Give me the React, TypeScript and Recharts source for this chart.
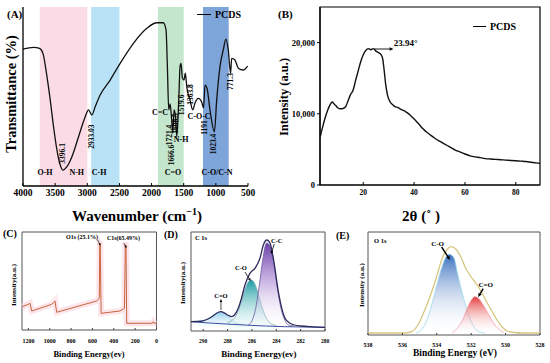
import React from "react";
import {
  ComposedChart,
  Line,
  Area,
  XAxis,
  YAxis,
  ReferenceArea,
  ReferenceDot,
  ReferenceLine,
  Legend,
} from "recharts";

const FONT = "'Liberation Serif', 'Times New Roman', serif";

// (A) FTIR spectrum
const ftirWavenumber = [
  4000, 3835, 3742, 3690, 3627, 3576, 3525, 3472, 3421, 3380, 3317, 3239, 3136, 3032, 2981, 2929,
  2877, 2800, 2644, 2489, 2282, 2074, 1919, 1816, 1775, 1754, 1733, 1712, 1689, 1670, 1650, 1630,
  1608, 1577, 1557, 1542, 1520, 1495, 1475, 1453, 1402, 1360, 1324, 1273, 1220, 1191, 1169, 1138,
  1091, 1023, 987, 936, 885, 843, 807, 771, 754, 703, 651, 574, 506,
];
const ftirTransmittance = [
  76.4, 77.5, 76.9, 74.1, 61.1, 48, 33.1, 20.1, 11.7, 8.9, 10.8, 16.4, 27.5, 38.7, 42.5, 39.7,
  44.3, 50.8, 59.2, 68.5, 79.7, 88.1, 91.2, 91.2, 87.2, 66.7, 42.5, 45.8, 38, 29.6, 42.5, 39.7,
  27.5, 48, 66.7, 68.5, 60.3, 59.2, 63.1, 55.5, 48, 42.5, 46.4, 49, 46.9, 43.6, 56.4, 54.7,
  42.5, 30.3, 48, 66.7, 76, 82, 76, 63, 71.3, 70.4, 65.8, 64.8, 67,
];
const ftirTicks = [4000, 3500, 3000, 2500, 2000, 1500, 1000, 500];
const ftirBandFrom = [3740, 2940, 1900, 1200];
const ftirBandTo = [3000, 2500, 1500, 800];
const ftirPeakText = ["3396.1", "2933.03", "1721.4", "1666.6", "1608.5", "1519.6", "1363.8", "1191", "1023.4", "771.3"];
const ftirPeakAt = [3393, 2934, 1724, 1686, 1624, 1531, 1401, 1184, 1039, 768];
const ftirPeakLevel = [18.2, 27.6, 28.5, 17.3, 34.9, 45.3, 51.1, 32.7, 23.5, 58.4];
const ftirGroupText = ["O-H", "N-H", "C-H", "C=O", "C-O/C-N", "C=C", "N-H", "C-O-C"];
const ftirGroupAt = [3658, 3164, 2817, 1666, 982, 1868, 1541, 1261];
const ftirGroupLevel = [7.8, 7.8, 7.8, 7.8, 7.8, 40.8, 25.7, 39.1];

// (B) XRD pattern
const xrdAngle = [
  3.1, 4, 5, 6, 7, 7.8, 8.5, 9.2, 10, 11, 12, 13, 14, 15, 16, 17, 18, 19, 20, 21, 22, 23, 24, 25,
  26, 27, 27.6, 28.2, 28.8, 29.5, 30.5, 31.5, 32.5, 33.5, 34.5, 35.5, 36.5, 37.5, 38.5, 39.5, 40.5,
  42, 43.5, 45, 46.5, 48, 50, 52, 54, 56, 58, 60, 62, 64, 66, 68, 70, 72, 74, 76, 78, 80, 82, 84,
  86, 88, 89.5,
];
const xrdIntensity = [
  6800, 8100, 9400, 10500, 11300, 11650, 11400, 11150, 10850, 10700, 10750, 10950, 11800, 12700,
  13300, 14700, 16000, 17300, 18300, 18900, 19150, 19000, 19150, 18800, 18600, 18300, 17800, 16200,
  14200, 12700, 11700, 11300, 11000, 10900, 10700, 10500, 10350, 10100, 9800, 9450, 9100, 8500,
  7900, 7400, 7000, 6600, 6150, 5750, 5350, 4950, 4650, 4350, 4100, 3950, 3850, 3700, 3650, 3600,
  3550, 3500, 3450, 3400, 3350, 3300, 3200, 3100, 3050,
];
const xrdTicksX = [20, 40, 60, 80];
const xrdTicksY = [0, 10000, 20000];

// (C) XPS survey
const surveyEnergy = [
  1260, 1201, 1185, 1169, 982, 960, 951, 935, 560, 541, 536, 531, 527, 519, 342, 300, 292, 286,
  279, 40, 30, 24, 0,
];
const surveyIntensity = [
  23.8, 26.2, 27.2, 19.4, 26.2, 28.3, 29.6, 18.1, 29.6, 31.6, 33, 88.5, 88, 17, 19.4, 22.1, 86.7,
  86.7, 6.8, 6.9, 8.5, 7, 6.8,
];
const surveyTicks = [1200, 1000, 800, 600, 400, 200, 0];

// (D) C 1s
const c1sEnvE = [
  291, 290.5, 290, 289.6, 289.2, 288.9, 288.55, 288.2, 287.9, 287.66, 287.4, 287.12, 286.85, 286.57,
  286.16, 285.75, 285.5, 285.34, 285.06, 284.78, 284.51, 284.24, 283.83, 283.55, 283.28, 282.87,
  282.5, 282, 281, 280,
];
const c1sEnvI = [
  9.3, 9.5, 10.2, 12, 15, 17.8, 19.3, 17.6, 15.5, 14.3, 16.5, 22.7, 33, 46, 57.7, 62.7, 68, 72.7, 86,
  91, 87.7, 72.7, 39.3, 22.7, 12.7, 7.7, 6, 5, 4.2, 3.7,
];
const c1sBgE = [291, 289.5, 287.7, 286, 284.9, 283.3, 280];
const c1sBgI = [9.3, 8, 6.7, 5.6, 5, 4.3, 3.7];
const c1sCdoE = [290.5, 290, 289.6, 289.2, 288.9, 288.55, 288.2, 287.9, 287.6, 287.3, 287, 286.6];
const c1sCdoI = [9.5, 10.5, 12.5, 15.5, 18, 19.3, 17.5, 14, 10.5, 8, 7, 6.5];
const c1sCoE = [288, 287.6, 287.2, 286.9, 286.6, 286.3, 286.05, 285.8, 285.5, 285.2, 284.9, 284.6, 284.3, 284];
const c1sCoI = [8.5, 11, 18, 28, 40, 49, 51, 48, 38, 25, 15, 9, 6.5, 5.5];
const c1sCcE = [286.3, 286, 285.7, 285.4, 285.1, 284.8, 284.5, 284.2, 283.9, 283.6, 283.3, 283, 282.6];
const c1sCcI = [6, 10, 22, 45, 72, 88, 85, 68, 42, 22, 11, 6, 5];
const c1sTicks = [290, 288, 286, 284, 282, 280];

// (E) O 1s
const o1sEnvE = [
  538, 536, 535.5, 535.1, 534.7, 534.3, 534, 533.7, 533.4, 533.2, 532.9, 532.6, 532.3, 532, 531.7,
  531.4, 531.1, 530.8, 530.5, 530.2, 529.9, 529.5, 529, 528,
];
const o1sEnvI = [2, 2, 3, 10, 25, 43, 59, 76, 85.5, 88.3, 86, 78, 66, 58, 51, 43, 33, 24, 15, 8, 4, 2.5, 2, 2];
const o1sCoE = [535.2, 534.9, 534.6, 534.3, 534, 533.7, 533.5, 533.27, 533, 532.8, 532.55, 532.3, 532.1, 531.8, 531.5, 531.2];
const o1sCoI = [2, 5, 14, 30, 50, 68, 77, 80.7, 77, 62, 44, 28, 18, 7, 3, 2];
const o1sCdoE = [533.1, 532.8, 532.5, 532.2, 531.95, 531.8, 531.6, 531.3, 531, 530.7, 530.4, 530.1];
const o1sCdoI = [2, 7, 15, 28, 36, 38.3, 37, 30, 21, 12, 6, 2.5];
const o1sTicks = [538, 536, 534, 532, 530, 528];

// tables for the library
const ftirData = ftirWavenumber.map((wn, i) => ({ wn, t: ftirTransmittance[i] }));
const xrdData = xrdAngle.map((a, i) => ({ a, v: xrdIntensity[i] }));
const surveyData = surveyEnergy.map((e, i) => ({ e, v: surveyIntensity[i] }));

type Series = { key: string; x: number[]; y: number[] };
function mergeSeries(list: Series[]) {
  const rows = new Map<number, any>();
  list.forEach((s) =>
    s.x.forEach((x, i) => {
      const row = rows.get(x) || { e: x };
      row[s.key] = s.y[i];
      rows.set(x, row);
    })
  );
  return Array.from(rows.values()).sort((a, b) => b.e - a.e);
}
const c1sData = mergeSeries([
  { key: "env", x: c1sEnvE, y: c1sEnvI },
  { key: "bg", x: c1sBgE, y: c1sBgI },
  { key: "cdo", x: c1sCdoE, y: c1sCdoI },
  { key: "co", x: c1sCoE, y: c1sCoI },
  { key: "cc", x: c1sCcE, y: c1sCcI },
]);
const o1sData = mergeSeries([
  { key: "env", x: o1sEnvE, y: o1sEnvI },
  { key: "co", x: o1sCoE, y: o1sCoI },
  { key: "cdo", x: o1sCdoE, y: o1sCdoI },
]);

const bandColors = ["#fadbe6", "#b9e2f7", "#c3e6cd", "#7ea5d9"];

const tickStyle = (size: number) => ({ fontSize: size, fontWeight: "bold", fill: "#000", fontFamily: FONT });

function textShape(text: string, size: number, rotate = false, anchor = "middle") {
  return (p: any) => (
    <text
      x={p.cx}
      y={p.cy}
      transform={rotate ? `rotate(-90 ${p.cx} ${p.cy})` : undefined}
      textAnchor={anchor}
      dominantBaseline="central"
      fontFamily={FONT}
      fontWeight="bold"
      fontSize={size}
      fill="#000"
    >
      {text}
    </text>
  );
}

function arrowShape(width: number, head: number) {
  return (p: any) => {
    const { x1, y1, x2, y2 } = p;
    const a = Math.atan2(y2 - y1, x2 - x1);
    const bx = x2 - head * Math.cos(a);
    const by = y2 - head * Math.sin(a);
    const w = head * 0.45;
    const pts = `${x2},${y2} ${bx + w * Math.sin(a)},${by - w * Math.cos(a)} ${bx - w * Math.sin(a)},${by + w * Math.cos(a)}`;
    return (
      <g>
        <line x1={x1} y1={y1} x2={bx} y2={by} stroke="#000" strokeWidth={width} />
        <polygon points={pts} fill="#000" />
      </g>
    );
  };
}

function title(text: React.ReactNode, x: number, y: number, size: number, rotate = false) {
  return () => (
    <text
      x={x}
      y={y}
      transform={rotate ? `rotate(-90 ${x} ${y})` : undefined}
      textAnchor="middle"
      dominantBaseline={rotate ? "central" : undefined}
      fontFamily={FONT}
      fontWeight="bold"
      fontSize={size}
      fill="#000"
    >
      {text}
    </text>
  );
}

const pcdsLegend = (lineW: number, size: number) => () => (
  <div style={{ display: "flex", alignItems: "center", fontFamily: FONT, fontWeight: "bold", fontSize: size, color: "#000" }}>
    <span style={{ display: "inline-block", width: lineW, borderTop: "1.5px solid #000", marginRight: 4 }} />
    PCDS
  </div>
);

function PanelA() {
  return (
    <ComposedChart width={262} height={228} data={ftirData} margin={{ top: 7, right: 14, bottom: 0, left: 0 }}>
      {ftirBandFrom.map((from, i) => (
        <ReferenceArea key={"band" + i} x1={from} x2={ftirBandTo[i]} fill={bandColors[i]} fillOpacity={1} stroke="none" />
      ))}
      <XAxis
        type="number"
        dataKey="wn"
        domain={[500, 4000]}
        reversed
        ticks={ftirTicks}
        interval={0}
        height={42}
        tick={tickStyle(9.5)}
        tickSize={3}
        tickMargin={0}
        tickLine={{ stroke: "#000", transform: "translate(0,-3)" }}
        axisLine={{ stroke: "#000", strokeWidth: 1.3 }}
        label={{
          content: title(
            <>
              Wavenumber (cm<tspan dy={-6} fontSize={10}>−1</tspan>
              <tspan dy={6}>)</tspan>
            </>,
            137,
            221,
            15
          ),
        }}
      />
      <YAxis
        type="number"
        domain={[0, 100]}
        width={23}
        tick={false}
        tickLine={false}
        axisLine={{ stroke: "#000", strokeWidth: 1.3 }}
        label={{ content: title("Transmittance (%)", 11, 94, 14.5, true) }}
      />
      <Line type="monotone" dataKey="t" stroke="#111" strokeWidth={1.3} dot={false} isAnimationActive={false} />
      {ftirPeakText.map((t, i) => (
        <ReferenceDot key={"pk" + i} x={ftirPeakAt[i]} y={ftirPeakLevel[i]} r={0} shape={textShape(t, 7.5, true)} />
      ))}
      {ftirGroupText.map((t, i) => (
        <ReferenceDot key={"gr" + i} x={ftirGroupAt[i]} y={ftirGroupLevel[i]} r={0} shape={textShape(t, 8)} />
      ))}
      <Legend
        layout="horizontal"
        verticalAlign="middle"
        align="center"
        wrapperStyle={{ top: 9, left: 197, width: 55, height: 16 }}
        content={pcdsLegend(14, 10)}
      />
    </ComposedChart>
  );
}

function PanelB() {
  return (
    <ComposedChart width={270} height={225} data={xrdData} margin={{ top: 7, right: 5, bottom: 0, left: 0 }}>
      <XAxis
        type="number"
        dataKey="a"
        domain={[3, 89.5]}
        ticks={xrdTicksX}
        interval={0}
        height={40}
        tick={tickStyle(7.5)}
        tickSize={3}
        tickMargin={2}
        tickLine={{ stroke: "#000", transform: "translate(0,-3)" }}
        axisLine={{ stroke: "#000", strokeWidth: 1.2 }}
        label={{ content: title("2θ (˚ )", 146, 221, 15) }}
      />
      <YAxis
        type="number"
        domain={[0, 25000]}
        ticks={xrdTicksY}
        interval={0}
        width={45}
        tick={tickStyle(8.5)}
        tickSize={3}
        tickMargin={2}
        tickFormatter={(v: number) => v.toLocaleString("en-US")}
        tickLine={{ stroke: "#000" }}
        axisLine={{ stroke: "#000", strokeWidth: 1.2 }}
        label={{ content: title("Intensity (a.u.)", 9, 97, 12.5, true) }}
      />
      <ReferenceArea x1={3} x2={89.5} y1={0} y2={25000} fill="none" stroke="#000" strokeWidth={1.2} />
      <Line type="monotone" dataKey="v" stroke="#111" strokeWidth={1.4} dot={false} isAnimationActive={false} />
      <ReferenceLine segment={[{ x: 24.3, y: 19100 }, { x: 31.9, y: 19100 }]} shape={arrowShape(0.9, 4)} />
      <ReferenceDot x={36.7} y={19900} r={0} shape={textShape("23.94°", 9)} />
      <Legend
        layout="horizontal"
        verticalAlign="middle"
        align="center"
        wrapperStyle={{ top: 21, left: 198, width: 70, height: 16 }}
        content={pcdsLegend(13, 10)}
      />
    </ComposedChart>
  );
}

function PanelC() {
  return (
    <ComposedChart width={160} height={138} data={surveyData} margin={{ top: 7, right: 3.5, bottom: 0, left: 0 }}>
      <XAxis
        type="number"
        dataKey="e"
        domain={[0, 1260]}
        reversed
        ticks={surveyTicks}
        interval={0}
        height={33}
        tick={tickStyle(6)}
        tickSize={2}
        tickMargin={7}
        tickLine={{ stroke: "#444", transform: "translate(0,-2)" }}
        axisLine={false}
        label={{ content: title("Binding Energy(ev)", 89, 131.5, 8.5) }}
      />
      <YAxis
        type="number"
        domain={[0, 100]}
        width={22}
        tick={false}
        tickLine={false}
        axisLine={false}
        label={{ content: title("Intensity(a.u.)", 14, 60, 7, true) }}
      />
      <ReferenceArea x1={0} x2={1260} y1={0} y2={100} fill="none" stroke="#555" strokeWidth={1} />
      <Line type="linear" dataKey="v" stroke="#fbd3de" strokeOpacity={0.6} strokeWidth={6} dot={false} isAnimationActive={false} />
      <Line type="linear" dataKey="v" stroke="#c5653d" strokeWidth={1} dot={false} isAnimationActive={false} />
      <ReferenceDot x={698} y={95.2} r={0} shape={textShape("O1s (25.1%)", 6)} />
      <ReferenceDot x={309} y={94.2} r={0} shape={textShape("C1s(65.49%)", 6)} />
      <ReferenceLine segment={[{ x: 551, y: 91.8 }, { x: 525, y: 86 }]} shape={arrowShape(0.7, 2.5)} />
      <ReferenceLine segment={[{ x: 305, y: 88.5 }, { x: 281, y: 83.4 }]} shape={arrowShape(0.7, 2.5)} />
    </ComposedChart>
  );
}

function PanelD() {
  return (
    <ComposedChart width={165} height={138} data={c1sData} margin={{ top: 7, right: 5, bottom: 0, left: 0 }}>
      <defs>
        <linearGradient id="gradCC" x1="0" y1="0" x2="0" y2="1">
          <stop offset="0%" stopColor="#6a3fa8" stopOpacity={1} />
          <stop offset="45%" stopColor="#b89bdb" stopOpacity={0.7} />
          <stop offset="100%" stopColor="#ffffff" stopOpacity={0} />
        </linearGradient>
        <linearGradient id="gradCO" x1="0" y1="0" x2="0" y2="1">
          <stop offset="0%" stopColor="#1a9aa0" stopOpacity={1} />
          <stop offset="100%" stopColor="#e8fbfb" stopOpacity={0.2} />
        </linearGradient>
        <linearGradient id="gradCdO" x1="0" y1="0" x2="0" y2="1">
          <stop offset="0%" stopColor="#8ccbed" stopOpacity={1} />
          <stop offset="100%" stopColor="#ffffff" stopOpacity={0} />
        </linearGradient>
      </defs>
      <XAxis
        type="number"
        dataKey="e"
        domain={[280, 291]}
        reversed
        ticks={c1sTicks}
        interval={0}
        height={32}
        tick={tickStyle(5.5)}
        tickSize={2}
        tickMargin={6.5}
        tickLine={{ stroke: "#444", transform: "translate(0,-2)" }}
        axisLine={false}
        label={{ content: title("Binding Energy(ev)", 94, 131.5, 9) }}
      />
      <YAxis
        type="number"
        domain={[0, 99]}
        width={26}
        tick={false}
        tickLine={false}
        axisLine={false}
        label={{ content: title("Intensity(a.u.)", 18, 58, 7, true) }}
      />
      <ReferenceArea x1={280} x2={291} y1={0} y2={99} fill="none" stroke="#555" strokeWidth={1} />
      <Area type="monotone" dataKey="cdo" connectNulls stroke="#9ccfe8" strokeWidth={0.8} fill="url(#gradCdO)" fillOpacity={1} dot={false} isAnimationActive={false} />
      <Area type="monotone" dataKey="co" connectNulls stroke="#7fa9b6" strokeWidth={0.8} fill="url(#gradCO)" fillOpacity={1} dot={false} isAnimationActive={false} />
      <Area type="monotone" dataKey="cc" connectNulls stroke="#6c5ca0" strokeWidth={0.8} fill="url(#gradCC)" fillOpacity={1} dot={false} isAnimationActive={false} />
      <Line type="linear" dataKey="bg" connectNulls stroke="#3b4fa0" strokeWidth={1} dot={false} isAnimationActive={false} />
      <Line type="monotone" dataKey="env" connectNulls stroke="#2d2a5c" strokeWidth={1.3} dot={false} isAnimationActive={false} />
      <ReferenceDot x={290.67} y={94} r={0} shape={textShape("C 1s", 6.5, false, "start")} />
      <ReferenceDot x={288.54} y={35.3} r={0} shape={textShape("C=O", 6.5)} />
      <ReferenceLine segment={[{ x: 288.54, y: 21 }, { x: 288.54, y: 32 }]} shape={arrowShape(0.7, 3)} />
      <ReferenceDot x={286.9} y={63.3} r={0} shape={textShape("C-O", 6.5)} />
      <ReferenceLine segment={[{ x: 286.57, y: 59 }, { x: 286.1, y: 50 }]} shape={arrowShape(0.8, 3)} />
      <ReferenceDot x={283.96} y={91} r={0} shape={textShape("C-C", 6.5)} />
      <ReferenceLine segment={[{ x: 284.16, y: 87 }, { x: 284.43, y: 77 }]} shape={arrowShape(0.8, 3)} />
    </ComposedChart>
  );
}

function PanelE() {
  return (
    <ComposedChart width={210} height={138} data={o1sData} margin={{ top: 7, right: 10, bottom: 0, left: 0 }}>
      <defs>
        <linearGradient id="gradOCO" x1="0" y1="0" x2="0" y2="1">
          <stop offset="0%" stopColor="#3a70c0" stopOpacity={1} />
          <stop offset="100%" stopColor="#ffffff" stopOpacity={0} />
        </linearGradient>
        <linearGradient id="gradOCdO" x1="0" y1="0" x2="0" y2="1">
          <stop offset="0%" stopColor="#e53b3b" stopOpacity={1} />
          <stop offset="100%" stopColor="#ffffff" stopOpacity={0} />
        </linearGradient>
      </defs>
      <XAxis
        type="number"
        dataKey="e"
        domain={[528, 538]}
        reversed
        ticks={o1sTicks}
        interval={0}
        height={28}
        tick={tickStyle(6)}
        tickSize={2}
        tickMargin={6}
        tickLine={{ stroke: "#444", transform: "translate(0,-2)" }}
        axisLine={false}
        label={{ content: title("Binding Energy (eV)", 115, 131, 9.5) }}
      />
      <YAxis
        type="number"
        domain={[0, 103]}
        width={28}
        tick={false}
        tickLine={false}
        axisLine={false}
        label={{ content: title("Intensity (a.u.)", 21.5, 60, 7, true) }}
      />
      <ReferenceArea x1={528} x2={538} y1={0} y2={103} fill="none" stroke="#555" strokeWidth={1} />
      <Area type="monotone" dataKey="co" connectNulls stroke="#9ad8e8" strokeWidth={0.8} fill="url(#gradOCO)" fillOpacity={1} dot={false} isAnimationActive={false} />
      <Area type="monotone" dataKey="cdo" connectNulls stroke="#f2a0b0" strokeWidth={0.8} fill="url(#gradOCdO)" fillOpacity={1} dot={false} isAnimationActive={false} />
      <Line type="monotone" dataKey="env" connectNulls stroke="#d6c77f" strokeWidth={1.3} dot={false} isAnimationActive={false} />
      <ReferenceDot x={537.65} y={95} r={0} shape={textShape("O 1s", 6.5, false, "start")} />
      <ReferenceDot x={533.95} y={91.5} r={0} shape={textShape("C-O", 7)} />
      <ReferenceLine segment={[{ x: 533.72, y: 88 }, { x: 533.23, y: 75 }]} shape={arrowShape(1.4, 4)} />
      <ReferenceDot x={531.16} y={50} r={0} shape={textShape("C=O", 7)} />
      <ReferenceLine segment={[{ x: 531.3, y: 46.3 }, { x: 531.6, y: 38 }]} shape={arrowShape(1.4, 4)} />
    </ComposedChart>
  );
}

const letterStyle = (left: number, top: number, size: number): React.CSSProperties => ({
  position: "absolute",
  left,
  top,
  fontFamily: FONT,
  fontWeight: "bold",
  fontSize: size,
  lineHeight: 1,
  color: "#000",
});

export default function App() {
  return (
    <div style={{ position: "absolute", left: 0, top: 0, width: 550, height: 363, background: "#fff", overflow: "hidden" }}>
      <div style={{ position: "absolute", left: 0, top: 0 }}>
        <PanelA />
      </div>
      <div style={{ position: "absolute", left: 275, top: 0 }}>
        <PanelB />
      </div>
      <div style={{ position: "absolute", left: 0, top: 225 }}>
        <PanelC />
      </div>
      <div style={{ position: "absolute", left: 165, top: 225 }}>
        <PanelD />
      </div>
      <div style={{ position: "absolute", left: 340, top: 225 }}>
        <PanelE />
      </div>
      <span style={letterStyle(7, 9, 11)}>(A)</span>
      <span style={letterStyle(278, 9, 11)}>(B)</span>
      <span style={letterStyle(3, 229, 10)}>(C)</span>
      <span style={letterStyle(164, 230, 10)}>(D)</span>
      <span style={letterStyle(336, 231, 10)}>(E)</span>
    </div>
  );
}
